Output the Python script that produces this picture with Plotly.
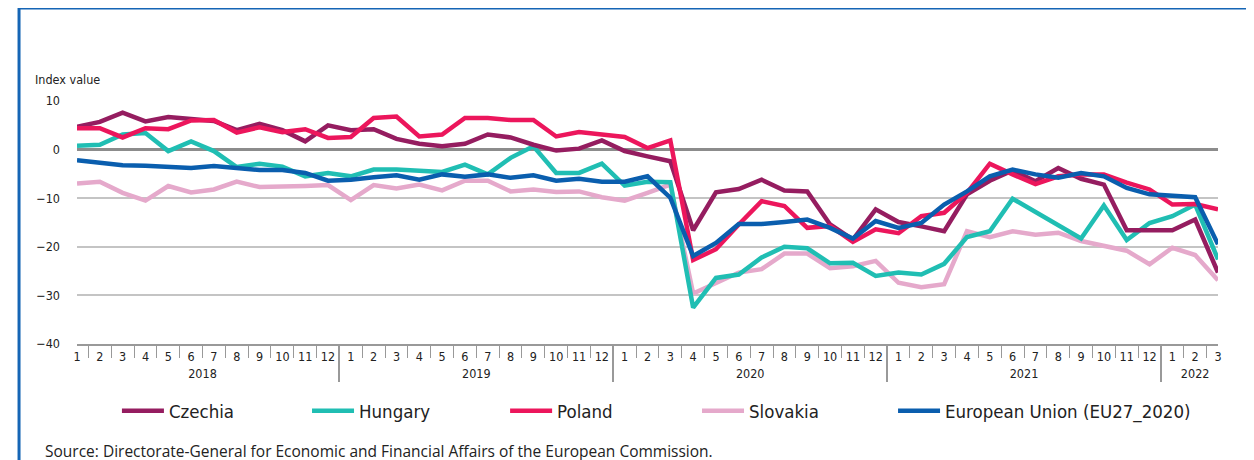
import plotly.graph_objects as go

years = ["2018", "2019", "2020", "2021", "2022"]
months_per_year = [12, 12, 12, 12, 3]

czechia = [4.7, 5.7, 7.6, 5.8, 6.7, 6.2, 5.9, 4.0, 5.3, 4.0, 1.7, 5.0,
           4.0, 4.2, 2.2, 1.2, 0.7, 1.2, 3.1, 2.5, 1.0, -0.2, 0.2, 1.9,
           -0.3, -1.4, -2.4, -16.6, -8.8, -8.1, -6.2, -8.4, -8.6, -15.4, -18.5, -12.3,
           -14.9, -15.8, -16.8, -9.2, -6.4, -4.3, -6.5, -3.8, -6.0, -7.2, -16.6, -16.6,
           -16.6, -14.4, -25.3]
hungary = [0.8, 1.0, 3.1, 3.4, -0.3, 1.7, -0.3, -3.6, -2.9, -3.5, -5.5, -4.8,
           -5.5, -4.1, -4.1, -4.4, -4.6, -3.1, -5.1, -1.7, 0.7, -4.8, -4.8, -2.9,
           -7.4, -6.6, -6.7, -32.5, -26.4, -25.7, -22.2, -20.0, -20.3, -23.4, -23.3, -26.0,
           -25.3, -25.7, -23.5, -18.0, -16.8, -10.1, -12.8, -15.4, -18.3, -11.5, -18.6, -15.1,
           -13.7, -11.3, -22.6]
poland = [4.4, 4.4, 2.5, 4.4, 4.2, 6.0, 6.1, 3.5, 4.6, 3.6, 4.2, 2.4,
          2.6, 6.5, 6.8, 2.7, 3.1, 6.5, 6.5, 6.1, 6.1, 2.7, 3.6, 3.2,
          2.6, 0.3, 1.9, -22.7, -20.5, -15.4, -10.6, -11.6, -16.1, -15.7, -19.0, -16.4,
          -17.2, -13.7, -13.0, -8.9, -2.9, -5.1, -7.1, -5.5, -5.1, -5.1, -6.8, -8.2,
          -11.3, -11.2, -12.3]
slovakia = [-7.0, -6.6, -8.9, -10.5, -7.5, -8.8, -8.2, -6.6, -7.7, -7.7, -7.5, -7.3,
            -10.4, -7.3, -8.0, -7.2, -8.4, -6.4, -6.4, -8.6, -8.2, -8.7, -8.6, -9.8,
            -10.5, -8.9, -7.2, -29.6, -27.4, -25.3, -24.6, -21.4, -21.4, -24.4, -24.0, -22.9,
            -27.4, -28.3, -27.7, -16.8, -18.0, -16.8, -17.5, -17.1, -18.8, -19.7, -20.8, -23.6,
            -20.2, -21.7, -26.9]
eu = [-2.2, -2.6, -3.2, -3.3, -3.6, -3.8, -3.4, -3.8, -4.2, -4.2, -4.8, -6.4,
      -6.2, -5.7, -5.3, -6.2, -5.1, -5.6, -5.1, -5.8, -5.3, -6.4, -6.0, -6.6,
      -6.6, -5.5, -9.9, -21.9, -19.2, -15.3, -15.3, -14.9, -14.4, -16.1, -18.3, -14.7,
      -16.1, -15.1, -11.3, -8.6, -5.5, -4.1, -5.1, -5.8, -4.8, -5.5, -7.9, -9.2,
      -9.6, -9.8, -19.5]

y_ticks = [10, 0, -10, -20, -30, -40]

x_year = []
x_month = []
for yr, n in zip(years, months_per_year):
    for m in range(1, n + 1):
        x_year.append(yr)
        x_month.append(str(m))
x = [x_year, x_month]

# name, values, colour, legend id, legend x (paper)
series = [
    ("Slovakia", slovakia, "#E5A9CB", "legend4", 0.5434),
    ("Hungary", hungary, "#20BEB3", "legend2", 0.2016),
    ("Czechia", czechia, "#951D60", "legend", 0.0350),
    ("Poland", poland, "#EC165C", "legend3", 0.3752),
    ("European Union (EU27_2020)", eu, "#0A5EAE", "legend5", 0.7152),
]

narrow = "Liberation Sans Narrow, DejaVu Sans Condensed, Arial Narrow, sans-serif"
tick_font = dict(family=narrow, size=12.5, color="#222222")

fig = go.Figure()
legends = {}
for name, vals, color, leg, lx in series:
    fig.add_trace(go.Scatter(
        x=x, y=vals, name=name, mode="lines",
        line=dict(color=color, width=4.5),
        legend=leg,
    ))
    legends[leg] = dict(
        orientation="h", x=lx, y=-0.198, xanchor="left", yanchor="top",
        font=dict(family=narrow, size=18.5, color="#222222"),
        itemwidth=42,
        bgcolor="rgba(0,0,0,0)",
    )

fig.update_layout(
    width=1254, height=460,
    margin=dict(l=69, r=44, t=93, b=124),
    paper_bgcolor="white", plot_bgcolor="white",
    showlegend=True,
    xaxis=dict(
        type="multicategory",
        automargin=False,
        showgrid=False,
        showline=True, linecolor="#999999", linewidth=2,
        ticks="outside", tickson="boundaries", ticklen=12, tickcolor="#999999", tickwidth=1,
        showdividers=True, dividercolor="#999999", dividerwidth=1.5,
        tickangle=0,
        tickfont=tick_font,
        zeroline=False,
    ),
    yaxis=dict(
        automargin=False,
        range=[-40, 10],
        tickvals=y_ticks,
        showgrid=True, gridcolor="#C4C4C4", gridwidth=1.5,
        zeroline=True, zerolinecolor="#8C8C8C", zerolinewidth=2.5,
        showline=False, ticks="", ticklabelstandoff=16,
        tickfont=tick_font,
    ),
    annotations=[
        dict(text="Index value", xref="paper", yref="paper", x=-0.039, y=1.051,
             xanchor="left", yanchor="bottom", showarrow=False,
             font=dict(family=narrow, size=12.5, color="#222222")),
        dict(text="Source: Directorate-General for Economic and Financial Affairs of the European Commission.",
             xref="paper", yref="paper", x=-0.0298, y=-0.387,
             xanchor="left", yanchor="top", showarrow=False,
             font=dict(family="Open Sans, Noto Sans, sans-serif", size=15.5, color="#222222")),
    ],
    shapes=[
        dict(type="line", xref="paper", yref="paper", x0=-0.0508, x1=1.05, y0=1.3827, y1=1.3827,
             line=dict(color="#1565B5", width=3)),
        dict(type="line", xref="paper", yref="paper", x0=-0.0508, x1=-0.0508, y0=1.3827, y1=-0.5,
             line=dict(color="#1565B5", width=3)),
    ],
)
fig.update_layout(**legends)

fig.write_html("out.html")
